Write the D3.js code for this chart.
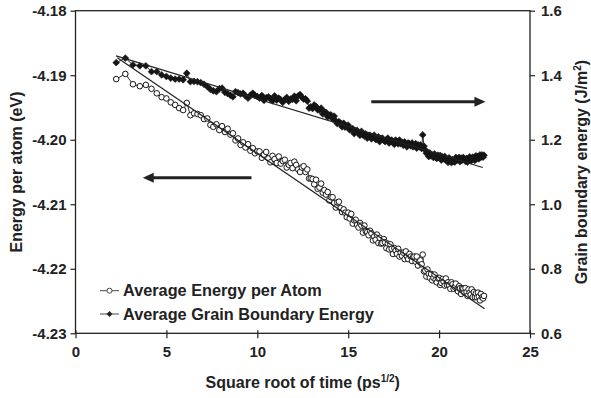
<!DOCTYPE html>
<html>
<head>
<meta charset="utf-8">
<script src="https://cdn.jsdelivr.net/npm/d3@7"></script>
<style>
  html, body { margin: 0; padding: 0; background: #fff; }
  svg { display: block; }
  text { font-family: "Liberation Sans", Arial, sans-serif; font-weight: bold; fill: #222; }
</style>
</head>
<body>
<svg id="chart" width="591" height="398"></svg>
<script>
// Square root of simulation time (ps^1/2), shared by both series
const rootTime = [2.24,2.74,3.16,3.54,3.87,4.18,4.47,4.74,5.00,5.24,5.48,5.70,5.92,6.12,6.32,6.52,6.71,6.89,7.07,7.25,7.42,7.58,7.75,7.91,8.06,8.22,8.37,8.52,8.66,8.80,8.94,9.08,9.22,9.35,9.49,9.62,9.75,9.87,10.00,
  10.12,10.25,10.37,10.49,10.61,10.72,10.84,10.95,11.07,11.18,11.29,11.40,11.51,11.62,11.73,11.83,11.94,12.04,12.14,12.25,12.35,12.45,12.55,12.65,12.75,12.85,12.94,13.04,13.13,13.23,13.32,13.42,13.51,13.60,13.69,13.78,13.87,13.96,14.05,14.14,14.23,14.32,14.40,14.49,14.58,14.66,14.75,14.83,14.92,15.00,
  15.08,15.17,15.25,15.33,15.41,15.49,15.57,15.65,15.73,15.81,15.89,15.97,16.05,16.12,16.20,16.28,16.36,16.43,16.51,16.58,16.66,16.73,16.81,16.88,16.96,17.03,17.10,17.18,17.25,17.32,17.39,17.46,17.54,17.61,17.68,17.75,17.82,17.89,17.96,18.03,18.10,18.17,18.23,18.30,18.37,18.44,18.51,18.57,18.64,18.71,18.77,18.84,18.91,18.97,19.04,19.10,
  19.17,19.24,19.30,19.36,19.43,19.49,19.56,19.62,19.69,19.75,19.81,19.87,19.94,20.00,20.06,20.12,20.19,20.25,20.31,20.37,20.43,20.49,20.55,20.62,20.68,20.74,20.80,20.86,20.92,20.98,21.04,21.10,21.15,21.21,21.27,21.33,21.39,21.45,21.51,21.56,21.62,21.68,21.74,21.79,21.85,21.91,21.97,22.02,22.08,22.14,22.19,22.25,22.30,22.36,22.42,22.47];

// Average energy per atom (eV), left axis
const energyPerAtom = [-4.1906,-4.1898,-4.1914,-4.1917,-4.1915,-4.1921,-4.1928,-4.1934,-4.1936,-4.1942,-4.1946,-4.1951,-4.1954,-4.1943,-4.1962,-4.1959,-4.1960,-4.1962,-4.1968,-4.1967,-4.1977,-4.1980,-4.1976,-4.1985,-4.1979,-4.1988,-4.1983,-4.1992,-4.1990,-4.2001,-4.1998,-4.2008,-4.2004,-4.2012,-4.2007,-4.2017,-4.2013,-4.2021,-4.2018,
  -4.2018,-4.2028,-4.2023,-4.2019,-4.2029,-4.2035,-4.2025,-4.2030,-4.2036,-4.2026,-4.2037,-4.2033,-4.2031,-4.2043,-4.2039,-4.2036,-4.2044,-4.2034,-4.2039,-4.2046,-4.2050,-4.2043,-4.2041,-4.2050,-4.2046,-4.2060,-4.2060,-4.2061,-4.2069,-4.2062,-4.2076,-4.2074,-4.2068,-4.2082,-4.2078,-4.2085,-4.2081,-4.2094,-4.2089,-4.2089,-4.2098,-4.2105,-4.2097,-4.2096,-4.2106,-4.2112,-4.2108,-4.2113,-4.2120,-4.2113,
  -4.2122,-4.2115,-4.2130,-4.2125,-4.2124,-4.2132,-4.2136,-4.2129,-4.2133,-4.2144,-4.2133,-4.2142,-4.2143,-4.2148,-4.2141,-4.2145,-4.2156,-4.2150,-4.2155,-4.2147,-4.2160,-4.2152,-4.2161,-4.2160,-4.2154,-4.2159,-4.2168,-4.2161,-4.2170,-4.2162,-4.2169,-4.2177,-4.2168,-4.2172,-4.2177,-4.2169,-4.2181,-4.2175,-4.2180,-4.2175,-4.2185,-4.2173,-4.2181,-4.2185,-4.2177,-4.2181,-4.2188,-4.2182,-4.2181,-4.2189,-4.2181,-4.2195,-4.2189,-4.2187,-4.2193,-4.2178,
  -4.2204,-4.2203,-4.2212,-4.2201,-4.2208,-4.2214,-4.2208,-4.2218,-4.2214,-4.2209,-4.2217,-4.2221,-4.2215,-4.2214,-4.2225,-4.2222,-4.2216,-4.2220,-4.2226,-4.2215,-4.2225,-4.2221,-4.2225,-4.2231,-4.2221,-4.2224,-4.2231,-4.2228,-4.2223,-4.2232,-4.2235,-4.2227,-4.2230,-4.2239,-4.2230,-4.2231,-4.2237,-4.2230,-4.2236,-4.2242,-4.2232,-4.2237,-4.2240,-4.2232,-4.2244,-4.2236,-4.2244,-4.2238,-4.2244,-4.2237,-4.2243,-4.2249,-4.2239,-4.2244,-4.2246,-4.2242];

// Average grain boundary energy (J/m^2), right axis
const gbEnergy = [1.439,1.453,1.432,1.429,1.429,1.411,1.411,1.401,1.396,1.391,1.388,1.388,1.386,1.406,1.380,1.381,1.380,1.377,1.372,1.365,1.356,1.352,1.349,1.358,1.360,1.347,1.343,1.338,1.333,1.349,1.346,1.342,1.344,1.336,1.329,1.338,1.344,1.338,1.334,
  1.329,1.337,1.322,1.330,1.333,1.327,1.321,1.336,1.323,1.329,1.324,1.316,1.325,1.331,1.319,1.326,1.325,1.335,1.321,1.336,1.340,1.332,1.326,1.327,1.320,1.298,1.302,1.297,1.308,1.303,1.293,1.293,1.298,1.280,1.286,1.285,1.271,1.276,1.277,1.265,1.273,1.258,1.250,1.256,1.251,1.240,1.251,1.239,1.242,1.245,
  1.231,1.232,1.234,1.219,1.228,1.229,1.219,1.214,1.226,1.216,1.211,1.218,1.205,1.213,1.214,1.203,1.209,1.214,1.201,1.202,1.209,1.194,1.204,1.205,1.198,1.194,1.200,1.205,1.190,1.196,1.199,1.191,1.186,1.199,1.193,1.187,1.199,1.188,1.192,1.183,1.193,1.186,1.178,1.190,1.187,1.181,1.190,1.178,1.182,1.188,1.174,1.184,1.178,1.184,1.173,1.215,
  1.180,1.168,1.158,1.161,1.148,1.159,1.150,1.152,1.145,1.156,1.146,1.142,1.152,1.147,1.151,1.137,1.147,1.141,1.148,1.137,1.140,1.130,1.144,1.137,1.129,1.138,1.134,1.131,1.145,1.136,1.140,1.145,1.132,1.143,1.137,1.145,1.140,1.133,1.142,1.131,1.140,1.147,1.136,1.136,1.146,1.141,1.136,1.150,1.143,1.148,1.141,1.153,1.146,1.153,1.146,1.152];

// Linear trend lines (end points)
const energyFitX = [2.3, 22.5];
const energyFit = [-4.1873, -4.2262];
const gbFitX = [2.23, 22.4];
const gbFit = [1.460, 1.114];

// Tick values
const xTicks = [0, 5, 10, 15, 20, 25];
const leftTicks = [-4.23, -4.22, -4.21, -4.20, -4.19, -4.18];
const rightTicks = [0.6, 0.8, 1.0, 1.2, 1.4, 1.6];

// Direction arrows: [x0, x1, y] in data units of the axis they point to
const leftArrow = [9.68, 3.7, -4.2059];
const rightArrow = [16.27, 22.55, 1.318];

const svg = d3.select("#chart");
const ink = "#222";
const markInk = "#151515";

const x = d3.scaleLinear().domain([0, 25]).range([75.5, 530]);
const yL = d3.scaleLinear().domain([-4.23, -4.18]).range([333.3, 10.7]);
const yR = d3.scaleLinear().domain([0.6, 1.6]).range([333.3, 10.7]);

// Frame
svg.append("rect")
  .attr("x", x(0)).attr("y", yL(-4.18))
  .attr("width", x(25) - x(0)).attr("height", yL(-4.23) - yL(-4.18))
  .attr("fill", "none").attr("stroke", ink).attr("stroke-width", 1.3);

// Axes
const axX = svg.append("g").attr("transform", `translate(0,${yL(-4.23)})`)
  .call(d3.axisBottom(x).tickValues(xTicks).tickSize(0).tickFormat(d3.format("d")));
axX.select(".domain").remove();
axX.selectAll(".tick").append("line").attr("y1", -3).attr("y2", 5).attr("stroke", ink).attr("stroke-width", 1.2);
axX.selectAll("text").attr("y", 13).attr("dy", "0.71em").style("font-size", "15px").attr("fill", ink);

const axL = svg.append("g").attr("transform", `translate(${x(0)},0)`)
  .call(d3.axisLeft(yL).tickValues(leftTicks).tickSize(0).tickFormat(d => d.toFixed(2)));
axL.select(".domain").remove();
axL.selectAll(".tick").append("line").attr("x1", -5).attr("x2", 0).attr("stroke", ink).attr("stroke-width", 1.2);
axL.selectAll("text").attr("x", -9).style("font-size", "15px").attr("fill", ink);

const axR = svg.append("g").attr("transform", `translate(${x(25)},0)`)
  .call(d3.axisRight(yR).tickValues(rightTicks).tickSize(0).tickFormat(d => d.toFixed(1)));
axR.select(".domain").remove();
axR.selectAll(".tick").append("line").attr("x1", 0).attr("x2", 5).attr("stroke", ink).attr("stroke-width", 1.2);
axR.selectAll("text").attr("x", 11).style("font-size", "15px").attr("fill", ink);

// Axis titles
const xt = svg.append("text").attr("x", (x(0) + x(25)) / 2).attr("y", 388)
  .attr("text-anchor", "middle").style("font-size", "16px");
xt.append("tspan").text("Square root of time (ps");
xt.append("tspan").text("1/2").attr("dy", -6).style("font-size", "10px");
xt.append("tspan").text(")").attr("dy", 6);

svg.append("text").attr("transform", `translate(22,${(yL(-4.18) + yL(-4.23)) / 2}) rotate(-90)`)
  .attr("text-anchor", "middle").style("font-size", "16px").text("Energy per atom (eV)");

const yt = svg.append("text").attr("transform", `translate(587,${(yL(-4.18) + yL(-4.23)) / 2}) rotate(-90)`)
  .attr("text-anchor", "middle").style("font-size", "16px");
yt.append("tspan").text("Grain boundary energy (J/m");
yt.append("tspan").text("2").attr("dy", -6).style("font-size", "10px");
yt.append("tspan").text(")").attr("dy", 6);

// Series
const n = Math.min(rootTime.length, energyPerAtom.length, gbEnergy.length);
const gbPts = d3.range(n).map(i => [rootTime[i], gbEnergy[i]]);
const enPts = d3.range(n).map(i => [rootTime[i], energyPerAtom[i]]);

const diamond = d3.symbol().type(d3.symbolDiamond2).size(30);

const gGB = svg.append("g");
gGB.append("path").datum(gbPts)
  .attr("d", d3.line().x(d => x(d[0])).y(d => yR(d[1])))
  .attr("fill", "none").attr("stroke", markInk).attr("stroke-width", 0.9);
gGB.selectAll("path.m").data(gbPts).join("path").attr("class", "m")
  .attr("transform", d => `translate(${x(d[0])},${yR(d[1])})`)
  .attr("d", diamond).attr("fill", markInk).attr("stroke", markInk).attr("stroke-width", 0.6);

const gEN = svg.append("g");
gEN.append("path").datum(enPts)
  .attr("d", d3.line().x(d => x(d[0])).y(d => yL(d[1])))
  .attr("fill", "none").attr("stroke", markInk).attr("stroke-width", 0.9);
gEN.selectAll("circle").data(enPts).join("circle")
  .attr("cx", d => x(d[0])).attr("cy", d => yL(d[1])).attr("r", 2.8)
  .attr("fill", "#fff").attr("stroke", markInk).attr("stroke-width", 1.0);

// Trend lines
svg.append("line")
  .attr("x1", x(energyFitX[0])).attr("y1", yL(energyFit[0]))
  .attr("x2", x(energyFitX[1])).attr("y2", yL(energyFit[1]))
  .attr("stroke", ink).attr("stroke-width", 1.2);
svg.append("line")
  .attr("x1", x(gbFitX[0])).attr("y1", yR(gbFit[0]))
  .attr("x2", x(gbFitX[1])).attr("y2", yR(gbFit[1]))
  .attr("stroke", ink).attr("stroke-width", 1.2);

// Arrows pointing to each series' axis
function arrow(x0, x1, y) {
  const dir = Math.sign(x1 - x0);
  const head = 11;
  svg.append("line").attr("x1", x0).attr("y1", y).attr("x2", x1 - dir * head + dir).attr("y2", y)
    .attr("stroke", ink).attr("stroke-width", 3);
  svg.append("path")
    .attr("d", `M${x1},${y} L${x1 - dir * head},${y - 5} L${x1 - dir * head},${y + 5} Z`)
    .attr("fill", ink);
}
arrow(x(leftArrow[0]), x(leftArrow[1]), yL(leftArrow[2]));
arrow(x(rightArrow[0]), x(rightArrow[1]), yR(rightArrow[2]));

// Legend
const legend = svg.append("g");
const rows = [
  { label: "Average Energy per Atom", y: 290.7, kind: "circle" },
  { label: "Average Grain Boundary Energy", y: 314, kind: "diamond" }
];
rows.forEach(r => {
  legend.append("line").attr("x1", 100).attr("x2", 119).attr("y1", r.y).attr("y2", r.y)
    .attr("stroke", "#333").attr("stroke-width", 0.9);
  if (r.kind === "circle") {
    legend.append("circle").attr("cx", 109.5).attr("cy", r.y).attr("r", 2.5)
      .attr("fill", "#fff").attr("stroke", "#333").attr("stroke-width", 0.9);
  } else {
    legend.append("path").attr("transform", `translate(109.5,${r.y})`).attr("d", d3.symbol().type(d3.symbolDiamond2).size(18))
      .attr("fill", ink).attr("stroke", ink).attr("stroke-width", 0.6);
  }
  legend.append("text").attr("x", 123).attr("y", r.y + 5.5).style("font-size", "16.3px").text(r.label);
});
</script>
</body>
</html>
